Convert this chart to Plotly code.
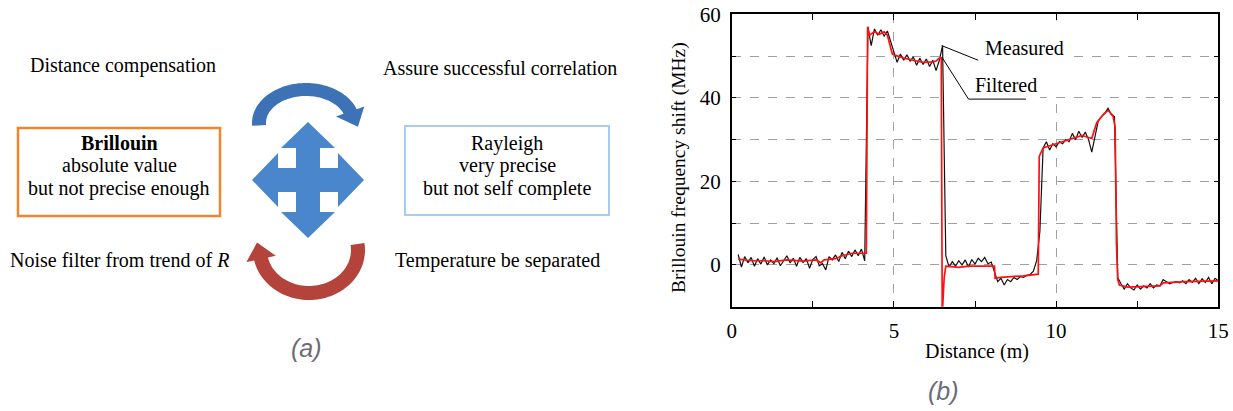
import numpy as np
import plotly.graph_objects as go

W, H = 1233, 411

# ---------------- data for panel (b) ----------------
distance = [round(0.2 + 0.1 * i, 1) for i in range(149)]
measured = [
    2.5, -0.5, 2.0, 0.5, 1.8, -0.3, 1.5, 0.2, 1.9, 0.0,
    1.2, 0.3, 1.7, -0.2, 1.0, 2.2, 0.5, 1.6, -0.3, 1.8,
    0.6, 1.5, -0.8, 1.3, 2.0, -0.2, 0.3, -1.2, 2.0, 1.2,
    2.4, 0.8, 3.0, 1.5, 3.3, 2.0, 3.6, 2.2, 3.8, 1.0,
    57.0, 52.5, 56.5, 55.0, 56.3, 54.8, 56.0, 53.5, 50.5, 48.5,
    50.5, 49.0, 50.3, 48.8, 49.8, 47.8, 49.5, 48.0, 49.3, 47.5,
    49.0, 46.5, 49.0, 52.5,
    2.2, -0.5, 0.8, -0.3, 1.0, 0.0, 1.2, -0.5, 1.3, 0.2, 1.6, 0.8, 1.8, 0.3, 0.7, -1.5,
    -4.0, -3.2, -4.8, -3.5, -4.0, -3.0, -3.5, -2.8, -3.0, -2.5, -2.3, -1.5, 1.0, 8.0,
    28.0, 29.5, 27.5, 29.0, 28.3, 29.5, 29.0, 30.0, 29.5, 31.5,
    30.0, 32.0, 30.5, 31.8, 30.0, 27.0, 31.0, 34.5, 35.5, 36.3,
    37.5, 36.0, 35.5,
    -3.0, -4.5, -5.8, -4.5, -5.5, -6.0, -4.8, -5.8, -5.0, -5.5,
    -4.5, -5.5, -4.8, -5.0, -3.5, -4.0, -4.5, -4.2, -4.0, -4.3,
    -3.8, -4.5, -3.5, -4.2, -3.2, -4.5, -3.3, -4.2, -3.0, -4.5,
    -3.2, -3.8,
]
filt_x = [0.2, 0.6, 1.0, 1.3, 1.7, 2.2, 2.6, 2.75, 2.85, 3.2, 3.4, 3.7, 4.15,
          4.19, 4.25, 4.4, 4.55, 4.7, 4.8, 4.95, 5.05, 5.3, 5.6, 5.9, 6.2, 6.3, 6.4, 6.46,
          6.49, 6.55, 6.6, 7.0, 7.3, 8.1, 8.12, 8.3, 9.0, 9.45,
          9.48, 9.6, 10.0, 10.5, 10.8, 11.0, 11.1, 11.25, 11.45, 11.6, 11.75, 11.82,
          11.86, 11.9, 11.95, 12.2, 13.2, 13.3, 14.0, 15.0]
filt_y = [1.4, 1.0, 1.0, 0.8, 1.2, 0.9, 1.2, 0.5, 1.2, 1.5, 2.2, 2.8, 2.8,
          57.0, 55.0, 55.8, 55.2, 55.8, 55.0, 50.5, 50.2, 49.5, 49.0, 48.5, 48.6, 48.8, 49.5, 49.5,
          -12.0, -3.0, -0.3, -0.6, -0.3, -0.3, -3.2, -3.0, -2.6, -2.2,
          26.0, 28.0, 29.0, 30.2, 31.0, 30.5, 30.3, 34.0, 36.0, 37.0, 35.8, 33.0,
          5.0, -3.5, -4.8, -5.3, -5.0, -4.3, -4.0, -3.8]

x_ticks = [0, 5, 10, 15]
x_minor = [2.5, 7.5, 12.5]
y_ticks = [0, 10, 20, 30, 40, 50, 60]
y_labels = ["0", "", "20", "", "40", "", "60"]

# label leaders (data coords)
meas_leader_x = [6.475, 7.6]
meas_leader_y = [52.5, 49.0]
filt_leader_x = [6.475, 7.30, 9.07]
filt_leader_y = [49.8, 39.7, 39.7]

SERIF = "Liberation Serif"


def px(x):
    return x / W


def py(y):
    return 1 - y / H


def path_from(points):
    return "M " + " L ".join(f"{px(x):.5f},{py(y):.5f}" for x, y in points) + " Z"


fig = go.Figure()

fig.add_trace(go.Scatter(x=distance, y=measured, mode="lines",
                         line=dict(color="#111111", width=1.2), name="Measured",
                         hoverinfo="skip"))
fig.add_trace(go.Scatter(x=filt_x, y=filt_y, mode="lines",
                         line=dict(color="#ff1010", width=1.7), name="Filtered",
                         hoverinfo="skip"))
fig.add_trace(go.Scatter(x=meas_leader_x, y=meas_leader_y, mode="lines",
                         line=dict(color="black", width=1), hoverinfo="skip"))
fig.add_trace(go.Scatter(x=filt_leader_x, y=filt_leader_y, mode="lines",
                         line=dict(color="black", width=1), hoverinfo="skip"))

shapes = []
# white masks behind labels (hide grid)
shapes.append(dict(type="rect", xref="x", yref="y", x0=6.55, x1=10.3, y0=40.6, y1=58.5,
                   fillcolor="white", line=dict(width=0), layer="between"))
shapes.append(dict(type="rect", xref="x", yref="y", x0=6.55, x1=9.5, y0=38.5, y1=44.5,
                   fillcolor="white", line=dict(width=0), layer="between"))

# ---------------- panel (a) diagram ----------------
shapes.append(dict(type="rect", xref="paper", yref="paper", x0=px(18), x1=px(220),
                   y0=py(216), y1=py(128), line=dict(color="#F0852D", width=2.5)))
shapes.append(dict(type="rect", xref="paper", yref="paper", x0=px(405), x1=px(609),
                   y0=py(215), y1=py(126), line=dict(color="#A9CCEE", width=2)))


def arc_arrow(cx, cy, rxo, ryo, rxi, ryi, t0, t1, head_len, head_extra):
    ts = np.linspace(np.radians(t0), np.radians(t1), 60)
    outer = [(cx + rxo * np.cos(t), cy - ryo * np.sin(t)) for t in ts]
    inner = [(cx + rxi * np.cos(t), cy - ryi * np.sin(t)) for t in ts[::-1]]
    te = np.radians(t1)
    rxm, rym = (rxo + rxi) / 2, (ryo + ryi) / 2
    P = np.array([cx + rxm * np.cos(te), cy - rym * np.sin(te)])
    sgn = -1 if t1 < t0 else 1
    d = np.array([-rxm * np.sin(te) * sgn, -rym * np.cos(te) * sgn])
    d = d / np.linalg.norm(d)
    tip = P + d * head_len
    ob = (cx + (rxo + head_extra) * np.cos(te), cy - (ryo + head_extra) * np.sin(te))
    ib = (cx + (rxi - head_extra) * np.cos(te), cy - (ryi - head_extra) * np.sin(te))
    pts = outer + [ob, tuple(tip), ib] + inner
    return path_from(pts)


# top blue arc arrow
shapes.append(dict(type="path", xref="paper", yref="paper",
                   path=arc_arrow(306, 123, 54, 40, 40, 27, 184, 20, 17, 8),
                   fillcolor="#3D72B6", line=dict(width=0)))
# bottom red arc arrow
shapes.append(dict(type="path", xref="paper", yref="paper",
                   path=arc_arrow(309, 250, 56, 50, 42, 36, 8, -168, 17, 8),
                   fillcolor="#B3433B", line=dict(width=0)))

# center four-way arrow
cx, cy = 308, 180
EX, EY, S, HW, HL = 56, 58, 12, 27, 26
cross = [
    (cx, cy - EY), (cx + HW, cy - EY + HL), (cx + S, cy - EY + HL), (cx + S, cy - S),
    (cx + EX - HL, cy - S), (cx + EX - HL, cy - HW), (cx + EX, cy), (cx + EX - HL, cy + HW),
    (cx + EX - HL, cy + S), (cx + S, cy + S), (cx + S, cy + EY - HL), (cx + HW, cy + EY - HL),
    (cx, cy + EY), (cx - HW, cy + EY - HL), (cx - S, cy + EY - HL), (cx - S, cy + S),
    (cx - EX + HL, cy + S), (cx - EX + HL, cy + HW), (cx - EX, cy), (cx - EX + HL, cy - HW),
    (cx - EX + HL, cy - S), (cx - S, cy - S), (cx - S, cy - EY + HL), (cx - HW, cy - EY + HL),
]
shapes.append(dict(type="path", xref="paper", yref="paper", path=path_from(cross),
                   fillcolor="#4A86CC", line=dict(width=0)))

annotations = []


def ptext(text, x, y, size=20, xanchor="center", color="black", family=SERIF):
    annotations.append(dict(text=text, x=px(x), y=py(y), xref="paper", yref="paper",
                            xanchor=xanchor, yanchor="middle", showarrow=False,
                            font=dict(family=family, size=size, color=color)))


ptext("Distance compensation", 28, 65, xanchor="left")
ptext("Assure successful correlation", 381, 68, xanchor="left")
ptext("Noise filter from trend of <i>R</i>", 8, 260, xanchor="left")
ptext("Temperature be separated", 393, 260, xanchor="left")
ptext("<b>Brillouin</b>", 119, 143)
ptext("absolute value", 119, 165)
ptext("but not precise enough", 119, 188)
ptext("Rayleigh", 507, 143)
ptext("very precise", 507, 165)
ptext("but not self complete", 507, 188)
ptext("<i>(a)</i>", 306, 348, size=25, color="#6b6b78", family="Liberation Sans")
ptext("<i>(b)</i>", 943, 391, size=25, color="#6b6b78", family="Liberation Sans")

# axis titles for (b)
annotations.append(dict(text="Brillouin frequency shift (MHz)", x=px(679), y=py(168),
                        xref="paper", yref="paper", textangle=-90, showarrow=False,
                        xanchor="center", yanchor="middle",
                        font=dict(family=SERIF, size=19.5, color="black")))
ptext("Distance (m)", 977, 351, size=20)

annotations.append(dict(text="Measured", x=7.74, y=52.0, xref="x", yref="y",
                        xanchor="left", yanchor="middle", showarrow=False,
                        font=dict(family=SERIF, size=20, color="black")))
annotations.append(dict(text="Filtered", x=7.43, y=43.0, xref="x", yref="y",
                        xanchor="left", yanchor="middle", showarrow=False,
                        font=dict(family=SERIF, size=20, color="black")))

fig.update_layout(
    width=W, height=H, margin=dict(l=0, r=0, t=0, b=0, autoexpand=False),
    paper_bgcolor="white", plot_bgcolor="white", showlegend=False,
    shapes=shapes, annotations=annotations,
    xaxis=dict(domain=[731.7 / W, 1218.3 / W], range=[0, 15], automargin=False,
               tickvals=x_ticks, ticks="inside", ticklen=6, tickcolor="black",
               showline=True, linecolor="black", linewidth=1.5, mirror="ticks",
               showgrid=True, gridcolor="#a0a0a0", griddash="dash", gridwidth=1,
               zeroline=False, ticklabelstandoff=4,
               minor=dict(tickvals=x_minor, ticks="inside", ticklen=6,
                          tickcolor="black", showgrid=False),
               tickfont=dict(family=SERIF, size=21, color="black")),
    yaxis=dict(domain=[1 - 306.7 / H, 1 - 14.3 / H], range=[-10, 60], automargin=False,
               tickvals=y_ticks, ticktext=y_labels, ticks="inside", ticklen=5,
               tickcolor="black",
               showline=True, linecolor="black", linewidth=1.5, mirror="ticks",
               showgrid=True, gridcolor="#a0a0a0", griddash="dash", gridwidth=1,
               zeroline=False, ticklabelstandoff=5,
               tickfont=dict(family=SERIF, size=21, color="black")),
)

fig.write_html(
    "out.html",
    config={"displayModeBar": False},
    post_script=("document.documentElement.style.margin='0';"
                 "document.body.style.margin='0';"
                 "document.documentElement.style.overflow='hidden';"
                 "document.body.style.overflow='hidden';"),
)
